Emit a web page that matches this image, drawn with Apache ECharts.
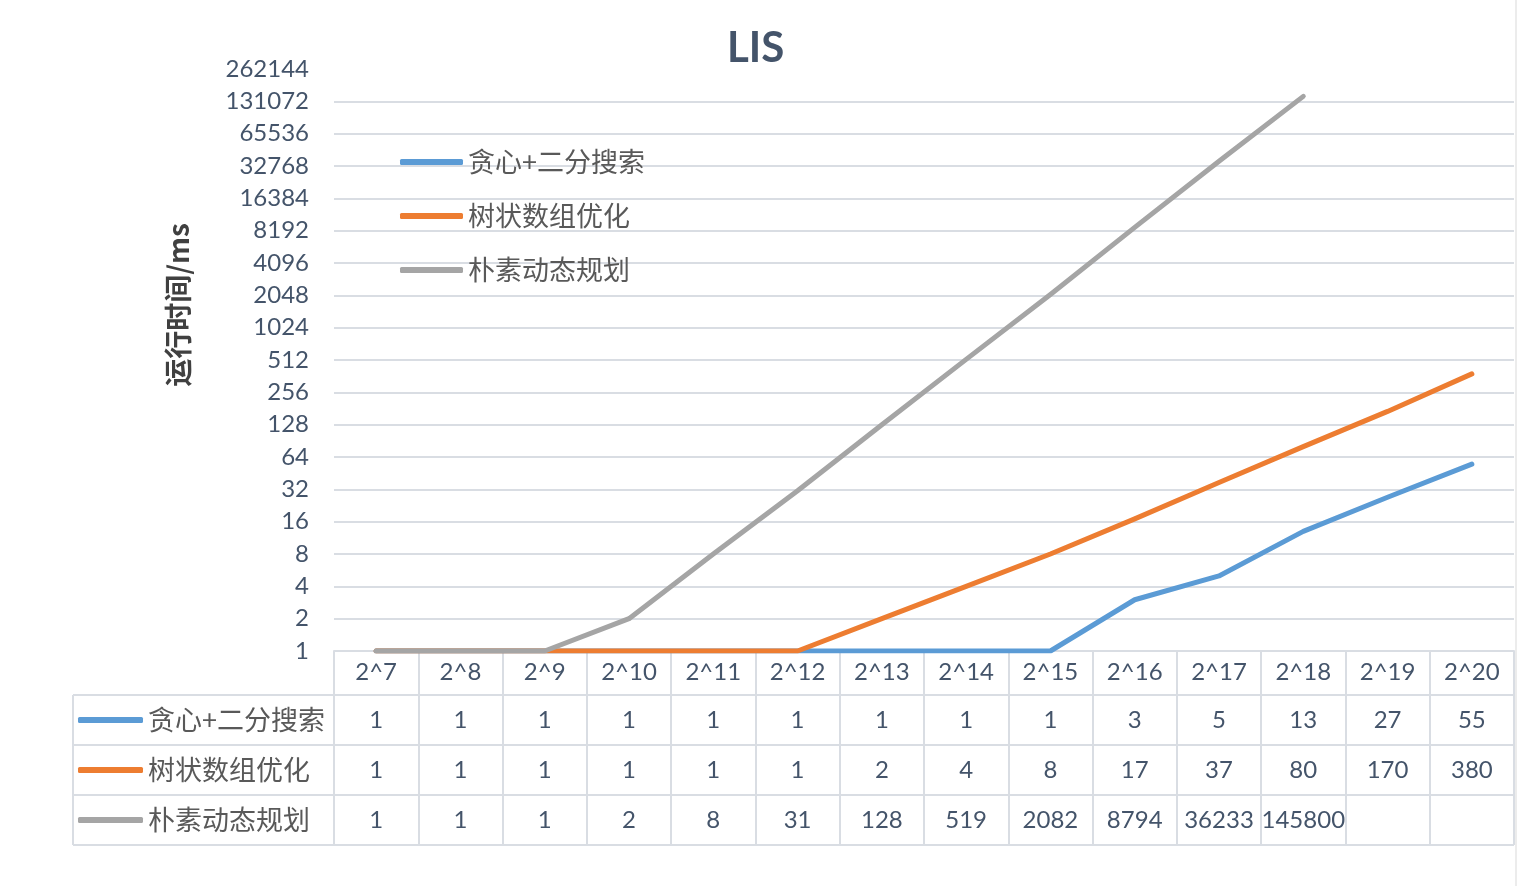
<!DOCTYPE html>
<html>
<head>
<meta charset="utf-8">
<script src="https://cdn.jsdelivr.net/npm/echarts@6/dist/echarts.min.js"></script>
<style>html,body{margin:0;padding:0;background:#fff}#c{width:1518px;height:886px}</style>
</head>
<body>
<div id="c"></div>
<script>
// ---- data ----
const categories = ['2^7','2^8','2^9','2^10','2^11','2^12','2^13','2^14','2^15','2^16','2^17','2^18','2^19','2^20'];
const seriesNames = ['贪心+二分搜索','树状数组优化','朴素动态规划'];
const greedy = [1,1,1,1,1,1,1,1,1,3,5,13,27,55];
const bit = [1,1,1,1,1,1,2,4,8,17,37,80,170,380];
const naive = [1,1,1,2,8,31,128,519,2082,8794,36233,145800,null,null];
const yMin = 1, yMax = 262144;

// ---- layout ----
const W = 1518, H = 886;
const GRID_L = 334, GRID_R = 1514, GRID_T = 69, AXIS_Y = 651;
const HEADER_H = 44, ROW_H = 50, TABLE_L = 73;
const BORDER = '#d9dde3';
const TXT = '#44546a';
const FONT = "Lato, 'Noto Sans CJK SC', sans-serif";
const CJK = "'Noto Sans CJK SC', sans-serif";
const colors = ['#5b9bd5','#ed7d31','#a5a5a5'];
const rows = [greedy, bit, naive];

const chart = echarts.init(document.getElementById('c'), null, {renderer:'canvas'});

const splitColors = [];
for (let i = 0; i < 18; i++) splitColors.push(BORDER);
splitColors.push('rgba(0,0,0,0)');

const xAxes = [{
  type:'category', data:categories, gridIndex:0, position:'bottom', boundaryGap:true,
  axisLine:{show:true, lineStyle:{color:BORDER, width:2}},
  axisTick:{show:true, interval:0, length:HEADER_H + ROW_H*3, lineStyle:{color:BORDER, width:2}},
  axisLabel:{show:true, interval:0, margin:9, fontSize:24, fontFamily:FONT, color:TXT, lineHeight:24},
  splitLine:{show:false}
}];
rows.forEach((arr, r) => {
  xAxes.push({
    type:'category', data:categories, gridIndex:0, position:'bottom', boundaryGap:true,
    offset: HEADER_H + ROW_H*r + 13,
    axisLine:{show:false}, axisTick:{show:false}, splitLine:{show:false},
    axisLabel:{show:true, interval:0, margin:0, fontSize:24, fontFamily:FONT, color:TXT, lineHeight:24,
      formatter:(v, i) => arr[i] == null ? '' : String(arr[i])}
  });
});

const graphics = [];
const tableBottom = AXIS_Y + HEADER_H + ROW_H*3;
for (let r = 0; r <= 3; r++) {
  const y = AXIS_Y + HEADER_H + ROW_H*r;
  graphics.push({type:'line', shape:{x1:TABLE_L, y1:y, x2:GRID_R, y2:y}, style:{stroke:BORDER, lineWidth:2}, silent:true});
}
graphics.push({type:'line', shape:{x1:TABLE_L, y1:AXIS_Y + HEADER_H, x2:TABLE_L, y2:tableBottom}, style:{stroke:BORDER, lineWidth:2}, silent:true});
graphics.push({type:'line', shape:{x1:W-2, y1:0, x2:W-2, y2:H}, style:{stroke:'#d9d9d9', lineWidth:1}, silent:true});

const option = {
  backgroundColor:'#fff',
  animation:false,
  color: colors,
  title:{text:'LIS', left:727, top:27, padding:0, textStyle:{fontSize:42, fontWeight:'bold', fontFamily:FONT, color:TXT}},
  grid:{left:GRID_L, right:W-GRID_R, top:GRID_T, bottom:H-AXIS_Y, containLabel:false},
  legend:[
    {data:seriesNames, orient:'vertical', left:400, top:147, padding:0, itemWidth:63, itemHeight:6, itemGap:24,
     icon:'roundRect', textStyle:{fontSize:27, fontFamily:CJK, color:'#595959', lineHeight:30}, selectedMode:false},
    {data:seriesNames, orient:'vertical', left:78, top:705, padding:0, itemWidth:65, itemHeight:6, itemGap:20,
     icon:'roundRect', textStyle:{fontSize:27, fontFamily:CJK, color:'#595959', lineHeight:30}, selectedMode:false}
  ],
  xAxis: xAxes,
  yAxis:{
    type:'log', logBase:2, min:yMin, max:yMax, interval:1,
    name:'运行时间/ms', nameLocation:'middle', nameGap:142,
    nameTextStyle:{fontSize:28, fontWeight:'bold', fontFamily:CJK, color:'#404040', padding:[0,0,0,110]},
    axisLine:{show:false}, axisTick:{show:false},
    axisLabel:{margin:25, fontSize:24, fontFamily:FONT, color:TXT, formatter:v => String(Math.round(v))},
    splitLine:{show:true, lineStyle:{color:splitColors, width:2}}
  },
  graphic: graphics,
  series: seriesNames.map((n, i) => ({
    name:n, type:'line', xAxisIndex:0, data:rows[i], symbol:'none', showSymbol:false,
    lineStyle:{width:5, color:colors[i], cap:'round', join:'round'}, itemStyle:{color:colors[i]},
    connectNulls:false
  }))
};
chart.setOption(option);
</script>
</body>
</html>
